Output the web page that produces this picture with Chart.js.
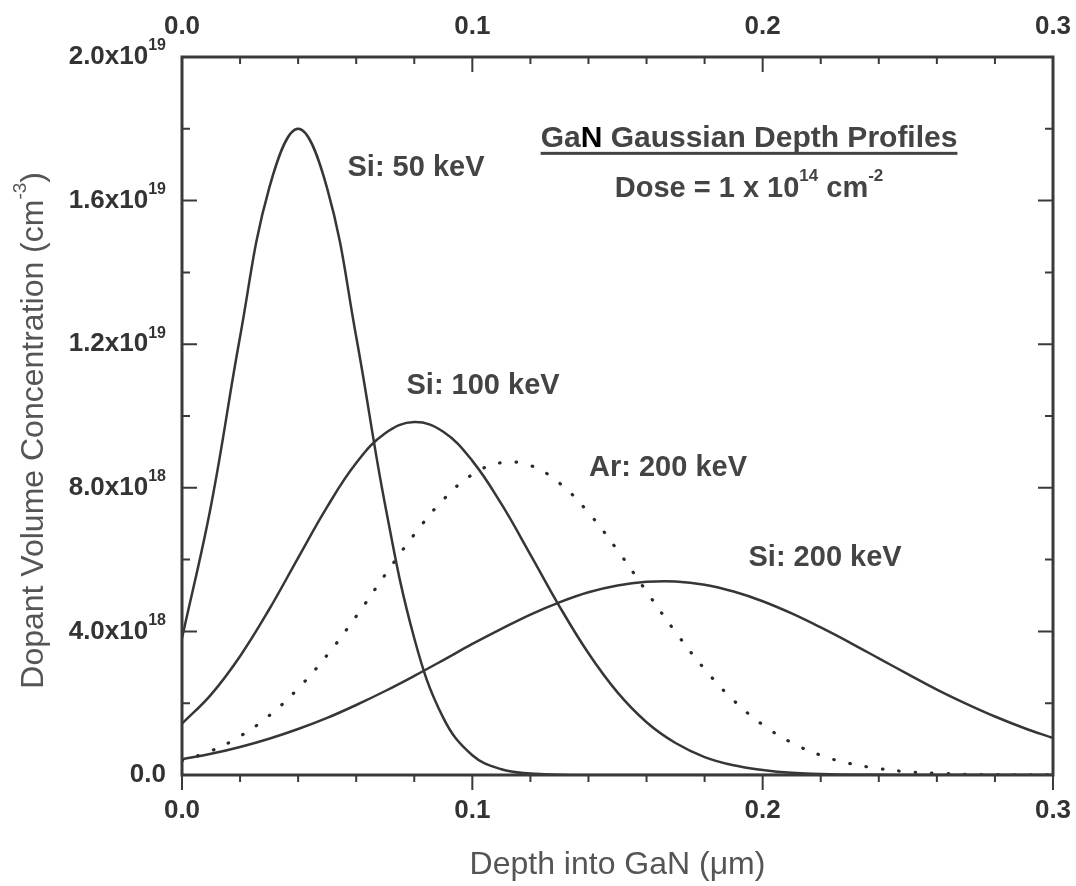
<!DOCTYPE html>
<html>
<head>
<meta charset="utf-8">
<script src="https://cdn.jsdelivr.net/npm/chart.js@4.4.0/dist/chart.umd.min.js"></script>
<style>
  html, body { margin: 0; padding: 0; background: #fff; }
  #wrap { width: 1076px; height: 886px; }
</style>
</head>
<body>
<div id="wrap"><canvas id="myChart" width="1076" height="886"></canvas></div>
<script>
// depth into GaN (um), sampled every 0.01
var depth = [0.00, 0.01, 0.02, 0.03, 0.04, 0.05, 0.06, 0.07, 0.08, 0.09,
             0.10, 0.11, 0.12, 0.13, 0.14, 0.15, 0.16, 0.17, 0.18, 0.19,
             0.20, 0.21, 0.22, 0.23, 0.24, 0.25, 0.26, 0.27, 0.28, 0.29, 0.30];

// concentrations, in units of 1e18 cm^-3
var si50 = [3.81, 7.51, 12.21, 16.34, 18.0, 16.34, 12.21, 7.51, 3.81, 1.59,
            0.55, 0.16, 0.04, 0.01, 0.0, 0.0, 0.0, 0.0, 0.0, 0.0,
            0.0, 0.0, 0.0, 0.0, 0.0, 0.0, 0.0, 0.0, 0.0, 0.0, 0.0];
var si100 = [1.43, 2.24, 3.31, 4.61, 6.05, 7.47, 8.69, 9.52, 9.83, 9.56,
             8.75, 7.55, 6.14, 4.70, 3.39, 2.30, 1.47, 0.89, 0.50, 0.27,
             0.14, 0.06, 0.03, 0.01, 0.005, 0.002, 0.0, 0.0, 0.0, 0.0, 0.0];
var ar200 = [0.40, 0.67, 1.08, 1.65, 2.41, 3.34, 4.42, 5.58, 6.70, 7.67,
             8.37, 8.70, 8.62, 8.13, 7.31, 6.26, 5.11, 3.98, 2.95, 2.08,
             1.40, 0.90, 0.55, 0.32, 0.18, 0.09, 0.05, 0.02, 0.01, 0.004, 0.002];
var si200 = [0.44, 0.59, 0.78, 1.01, 1.28, 1.59, 1.95, 2.34, 2.76, 3.20,
             3.65, 4.07, 4.47, 4.81, 5.09, 5.28, 5.38, 5.39, 5.30, 5.11,
             4.84, 4.50, 4.11, 3.69, 3.25, 2.81, 2.38, 1.99, 1.63, 1.31, 1.03];

// axis tick labels
var xTicks = [0.0, 0.1, 0.2, 0.3];
var xTickLabels = ['0.0', '0.1', '0.2', '0.3'];
var yTicks = [0, 4, 8, 12, 16, 20];
var yTickMantissa = ['0.0', '4.0', '8.0', '1.2', '1.6', '2.0'];
var yTickExp = ['', '18', '18', '19', '19', '19'];

var seriesNames = ['Si: 50 keV', 'Si: 100 keV', 'Ar: 200 keV', 'Si: 200 keV'];

function pts(values) {
  return depth.map(function (d, i) { return { x: d, y: values[i] }; });
}

var FONT = '"Liberation Sans", Arial, sans-serif';
var lineColor = '#363636';

// curve labels, placed in data units
var curveLabels = [
  { text: seriesNames[0], x: 0.0806, y: 16.9 },
  { text: seriesNames[1], x: 0.1037, y: 10.84 },
  { text: seriesNames[2], x: 0.1674, y: 8.55 },
  { text: seriesNames[3], x: 0.2215, y: 6.04 }
];

// draws box, inward/outward ticks, labels and titles
var framePlugin = {
  id: 'framePlugin',
  afterDraw: function (chart) {
    var ctx = chart.ctx;
    var a = chart.chartArea;
    var xs = chart.scales.x;
    var ys = chart.scales.y;
    ctx.save();

    // ticks
    ctx.strokeStyle = '#3a3a3a';
    ctx.lineWidth = 2;
    ctx.beginPath();
    for (var i = 0; i <= 15; i++) {
      var px = xs.getPixelForValue(i * 0.02);
      var len = (i % 5 === 0) ? 15 : 7;
      ctx.moveTo(px, a.bottom); ctx.lineTo(px, a.bottom + len);   // bottom: outward
      ctx.moveTo(px, a.top); ctx.lineTo(px, a.top + len);         // top: inward
    }
    for (var j = 0; j <= 10; j++) {
      var py = ys.getPixelForValue(j * 2);
      var l2 = (j % 2 === 0) ? 15 : 8;
      ctx.moveTo(a.left, py); ctx.lineTo(a.left + l2, py);
      ctx.moveTo(a.right, py); ctx.lineTo(a.right - l2, py);
    }
    ctx.stroke();

    // box
    ctx.lineWidth = 3;
    ctx.strokeStyle = '#3a3a3a';
    ctx.strokeRect(a.left, a.top, a.right - a.left, a.bottom - a.top);

    // x tick labels (bottom and top)
    ctx.fillStyle = '#333';
    ctx.font = 'bold 26px ' + FONT;
    ctx.textAlign = 'center';
    ctx.textBaseline = 'middle';
    xTicks.forEach(function (v, k) {
      var px = xs.getPixelForValue(v);
      ctx.fillText(xTickLabels[k], px, a.bottom + 36);
      ctx.fillText(xTickLabels[k], px, a.top - 30);
    });

    // y tick labels with superscripts
    yTicks.forEach(function (v, k) {
      var py = ys.getPixelForValue(v);
      var right = a.left - 16;
      if (!yTickExp[k]) {
        ctx.font = 'bold 26px ' + FONT;
        ctx.textAlign = 'right';
        ctx.fillText(yTickMantissa[k], right, py);
        return;
      }
      ctx.font = 'bold 16px ' + FONT;
      var ew = ctx.measureText(yTickExp[k]).width;
      ctx.textAlign = 'left';
      ctx.fillText(yTickExp[k], right - ew, py - 11);
      ctx.font = 'bold 26px ' + FONT;
      ctx.textAlign = 'right';
      ctx.fillText(yTickMantissa[k] + 'x10', right - ew, py);
    });

    // axis titles
    ctx.fillStyle = '#555';
    ctx.font = '32px ' + FONT;
    ctx.textAlign = 'center';
    ctx.fillText('Depth into GaN (\u03bcm)', (a.left + a.right) / 2, a.bottom + 90);

    ctx.save();
    ctx.translate(34, ys.getPixelForValue(9.6));
    ctx.rotate(-Math.PI / 2);
    var t1 = 'Dopant Volume Concentration (cm';
    ctx.font = '32px ' + FONT;
    var w1 = ctx.measureText(t1).width;
    ctx.font = '19px ' + FONT;
    var w2 = ctx.measureText('-3').width;
    ctx.font = '32px ' + FONT;
    var w3 = ctx.measureText(')').width;
    var start = -(w1 + w2 + w3) / 2;
    ctx.textAlign = 'left';
    ctx.fillText(t1, start, 0);
    ctx.font = '19px ' + FONT;
    ctx.fillText('-3', start + w1, -13);
    ctx.font = '32px ' + FONT;
    ctx.fillText(')', start + w1 + w2, 0);
    ctx.restore();

    // curve labels
    ctx.fillStyle = '#444';
    ctx.font = 'bold 29px ' + FONT;
    ctx.textAlign = 'center';
    curveLabels.forEach(function (c) {
      ctx.fillText(c.text, xs.getPixelForValue(c.x), ys.getPixelForValue(c.y));
    });

    // title block
    var cx = xs.getPixelForValue(0.1953);
    var ty = ys.getPixelForValue(17.72);
    ctx.font = 'bold 30px ' + FONT;
    var wGa = ctx.measureText('Ga').width;
    var wN = ctx.measureText('N').width;
    var wRest = ctx.measureText(' Gaussian Depth Profiles').width;
    var tw = wGa + wN + wRest;
    var tx = cx - tw / 2;
    ctx.textAlign = 'left';
    ctx.fillStyle = '#444';
    ctx.fillText('Ga', tx, ty);
    ctx.fillStyle = '#000';
    ctx.fillText('N', tx + wGa, ty);
    ctx.fillStyle = '#444';
    ctx.fillText(' Gaussian Depth Profiles', tx + wGa + wN, ty);
    ctx.fillRect(tx, ty + 13, tw, 3);

    var dy = ys.getPixelForValue(16.32);
    var parts = [
      { s: 'Dose = 1 x 10', sup: false },
      { s: '14', sup: true },
      { s: ' cm', sup: false },
      { s: '-2', sup: true }
    ];
    var total = 0;
    parts.forEach(function (p) {
      ctx.font = p.sup ? 'bold 17px ' + FONT : 'bold 29px ' + FONT;
      p.w = ctx.measureText(p.s).width;
      total += p.w;
    });
    var dx = cx - total / 2;
    parts.forEach(function (p) {
      ctx.font = p.sup ? 'bold 17px ' + FONT : 'bold 29px ' + FONT;
      ctx.fillText(p.s, dx, p.sup ? dy - 13 : dy);
      dx += p.w;
    });

    ctx.restore();
  }
};

var ctx = document.getElementById('myChart').getContext('2d');
var chart = new Chart(ctx, {
  type: 'line',
  data: {
    datasets: [
      { label: seriesNames[0], data: pts(si50), borderColor: lineColor, borderWidth: 2.5 },
      { label: seriesNames[1], data: pts(si100), borderColor: lineColor, borderWidth: 2.5 },
      { label: seriesNames[2], data: pts(ar200), borderColor: '#2a2a2a', borderWidth: 3.2,
        borderDash: [0.5, 16], borderCapStyle: 'round' },
      { label: seriesNames[3], data: pts(si200), borderColor: lineColor, borderWidth: 2.5 }
    ]
  },
  options: {
    responsive: false,
    animation: false,
    devicePixelRatio: 1,
    layout: { padding: { left: 182, right: 23, top: 57, bottom: 111 } },
    elements: {
      point: { radius: 0 },
      line: { tension: 0.4, fill: false }
    },
    plugins: { legend: { display: false }, tooltip: { enabled: false } },
    scales: {
      x: { type: 'linear', min: 0, max: 0.3, display: false },
      y: { type: 'linear', min: 0, max: 20, display: false }
    }
  },
  plugins: [framePlugin]
});
</script>
</body>
</html>
